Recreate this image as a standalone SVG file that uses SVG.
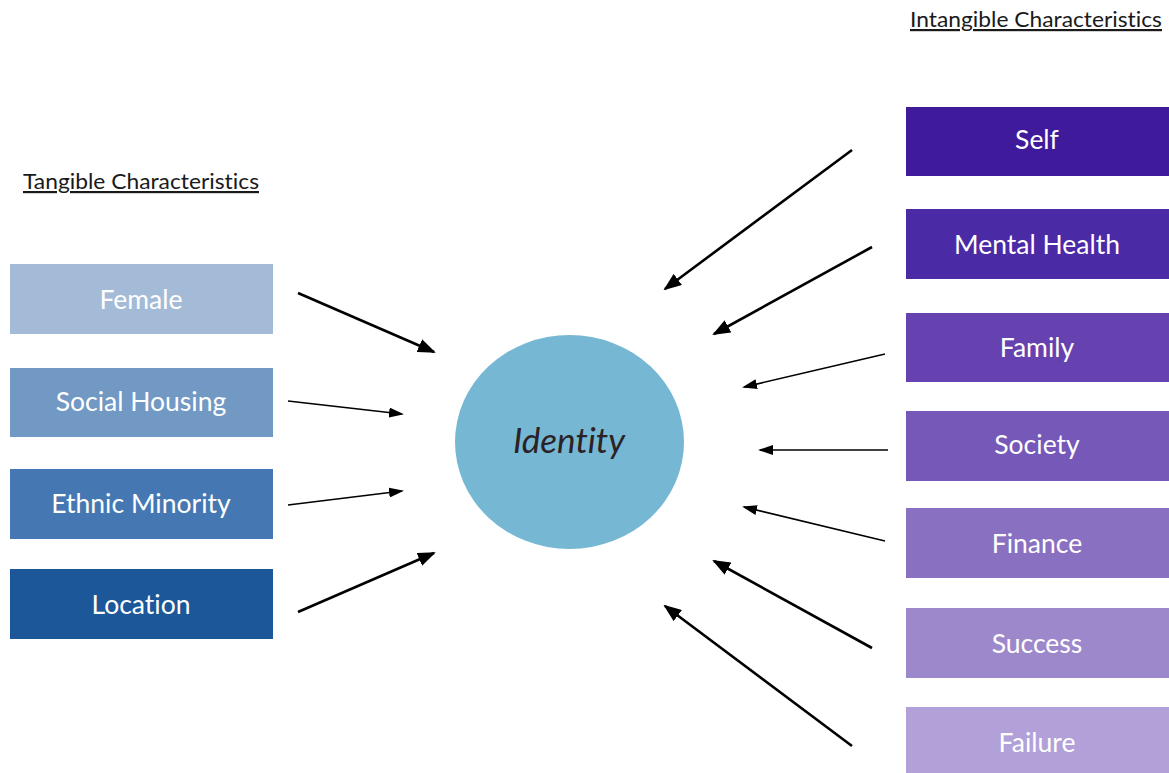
<svg xmlns="http://www.w3.org/2000/svg" width="1169" height="773" viewBox="0 0 1169 773">
<style>
text{font-variant-ligatures:none}
.lbl{font-family:Lato,"Open Sans","Liberation Sans",sans-serif;font-size:26.5px;fill:#ffffff;text-anchor:middle}
.hdr{font-family:Lato,"Open Sans","Liberation Sans",sans-serif;font-size:22px;fill:#1a1a1a;text-decoration:underline}
.a1{stroke:#000;stroke-width:2.6;fill:none;marker-end:url(#ah)}
.a2{stroke:#000;stroke-width:1.6;fill:none;marker-end:url(#as)}
</style>
<defs>
<marker id="ah" markerUnits="userSpaceOnUse" viewBox="0 0 18 14" markerWidth="18" markerHeight="14" refX="16" refY="7" orient="auto"><path d="M0,0 L18,7 L0,14 z" fill="#000"/></marker>
<marker id="as" markerUnits="userSpaceOnUse" viewBox="0 0 15 10" markerWidth="15" markerHeight="10" refX="13" refY="5" orient="auto"><path d="M0,0 L15,5 L0,10 z" fill="#000"/></marker>
</defs>
<rect width="1169" height="773" fill="#fff"/>
<text class="hdr" x="23" y="189" textLength="236" lengthAdjust="spacingAndGlyphs">Tangible Characteristics</text>
<text class="hdr" x="910" y="27" textLength="252" lengthAdjust="spacingAndGlyphs">Intangible Characteristics</text>
<g id="identity">
<ellipse cx="569.5" cy="442" rx="114.5" ry="107" fill="#76B7D4"/>
<text x="569" y="453" font-family="Lato,'Open Sans','Liberation Sans',sans-serif" font-size="35" font-style="italic" fill="#2a2224" text-anchor="middle">Identity</text>
</g>
<g id="female"><rect x="10" y="264" width="263" height="70" fill="#A4BBD8"/><text class="lbl" x="141" y="309">Female</text></g>
<g id="social-housing"><rect x="10" y="368" width="263" height="69" fill="#7199C4"/><text class="lbl" x="141" y="411">Social Housing</text></g>
<g id="ethnic-minority"><rect x="10" y="469" width="263" height="70" fill="#4578B2"/><text class="lbl" x="141" y="513">Ethnic Minority</text></g>
<g id="location"><rect x="10" y="569" width="263" height="70" fill="#1C5799"/><text class="lbl" x="141" y="614">Location</text></g>
<g id="self"><rect x="906" y="107" width="263" height="69" fill="#3F1A9A"/><text class="lbl" x="1037" y="149">Self</text></g>
<g id="mental-health"><rect x="906" y="209" width="263" height="70" fill="#4B2AA5"/><text class="lbl" x="1037" y="254">Mental Health</text></g>
<g id="family"><rect x="906" y="313" width="263" height="69" fill="#6542B0"/><text class="lbl" x="1037" y="357">Family</text></g>
<g id="society"><rect x="906" y="411" width="263" height="70" fill="#7558B8"/><text class="lbl" x="1037" y="454">Society</text></g>
<g id="finance"><rect x="906" y="508" width="263" height="70" fill="#8A70C1"/><text class="lbl" x="1037" y="553">Finance</text></g>
<g id="success"><rect x="906" y="608" width="263" height="70" fill="#9D88CC"/><text class="lbl" x="1037" y="653">Success</text></g>
<g id="failure"><rect x="906" y="707" width="263" height="66" fill="#B1A1D8"/><text class="lbl" x="1037" y="752">Failure</text></g>
<g id="connectors">
<line class="a1" x1="298" y1="293" x2="434" y2="352"/>
<line class="a2" x1="288" y1="401" x2="402" y2="414"/>
<line class="a2" x1="288" y1="505" x2="402" y2="491"/>
<line class="a1" x1="298" y1="612" x2="434" y2="553"/>
<line class="a1" x1="852" y1="150" x2="665" y2="289"/>
<line class="a1" x1="872" y1="247" x2="714" y2="334"/>
<line class="a2" x1="885" y1="354" x2="744" y2="387"/>
<line class="a2" x1="888" y1="450" x2="760" y2="450"/>
<line class="a2" x1="885" y1="541" x2="744" y2="507"/>
<line class="a1" x1="872" y1="648" x2="714" y2="561"/>
<line class="a1" x1="852" y1="746" x2="665" y2="606"/>
</g>
</svg>
